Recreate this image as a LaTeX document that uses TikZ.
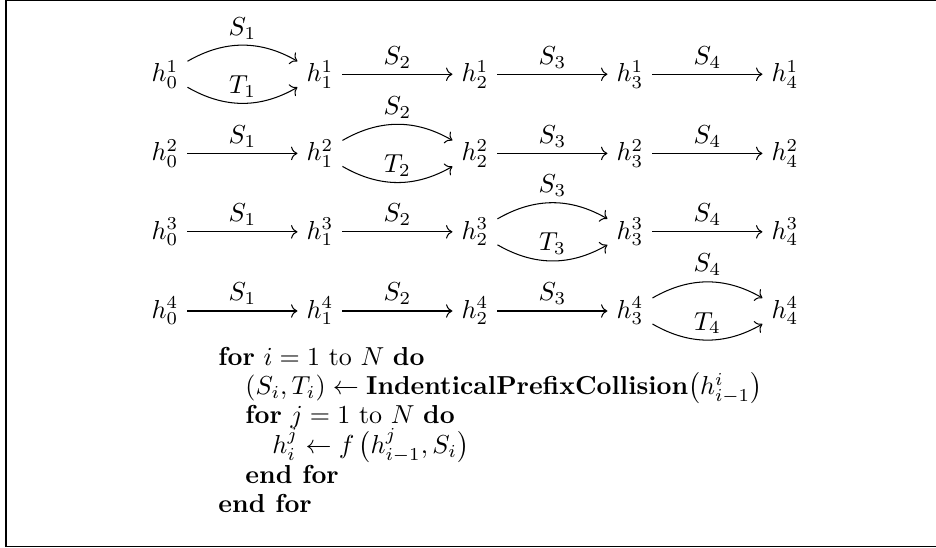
\documentclass[tikz,border=0pt]{standalone}
\usepackage{tikz}
\usetikzlibrary{arrows.meta, cd}
\usepackage{amsmath}

\begin{document}
\begin{tikzpicture}[
          hnode/.style={inner sep=0.333em},
          arr/.style={-cm to},
          lbl/.style={above, inner sep=0.5ex},
          alg/.style={anchor=base west, inner sep=0pt}
        ]
        \useasboundingbox (-2.2303,-3.2035) rectangle (10.4216,4.2038);
        % Frame (open on the right, cut by the page)
        \draw (10.4216,4.194) -| (-2.149,-3.183) -- (10.4216,-3.183);

        % Row 1
        \node[hnode] (h10) at (0, 3.2) {$h^1_0$};
        \node[hnode] (h11) at (2.095, 3.2) {$h^1_1$};
        \node[hnode] (h12) at (4.19, 3.2) {$h^1_2$};
        \node[hnode] (h13) at (6.285, 3.2) {$h^1_3$};
        \node[hnode] (h14) at (8.38, 3.2) {$h^1_4$};
        \draw[arr] (h10) to[bend left=30] node[lbl]{$S_1$} (h11);
        \draw[arr] (h10) to[bend right=30] node[lbl]{$T_1$} (h11);
        \draw[arr] (h11) -- node[lbl]{$S_2$} (h12);
        \draw[arr] (h12) -- node[lbl]{$S_3$} (h13);
        \draw[arr] (h13) -- node[lbl]{$S_4$} (h14);

        % Row 2
        \node[hnode] (h20) at (0, 2.13) {$h^2_0$};
        \node[hnode] (h21) at (2.095, 2.13) {$h^2_1$};
        \node[hnode] (h22) at (4.19, 2.13) {$h^2_2$};
        \node[hnode] (h23) at (6.285, 2.13) {$h^2_3$};
        \node[hnode] (h24) at (8.38, 2.13) {$h^2_4$};
        \draw[arr] (h20) -- node[lbl]{$S_1$} (h21);
        \draw[arr] (h21) to[bend left=30] node[lbl]{$S_2$} (h22);
        \draw[arr] (h21) to[bend right=30] node[lbl]{$T_2$} (h22);
        \draw[arr] (h22) -- node[lbl]{$S_3$} (h23);
        \draw[arr] (h23) -- node[lbl]{$S_4$} (h24);

        % Row 3
        \node[hnode] (h30) at (0, 1.07) {$h^3_0$};
        \node[hnode] (h31) at (2.095, 1.07) {$h^3_1$};
        \node[hnode] (h32) at (4.19, 1.07) {$h^3_2$};
        \node[hnode] (h33) at (6.285, 1.07) {$h^3_3$};
        \node[hnode] (h34) at (8.38, 1.07) {$h^3_4$};
        \draw[arr] (h30) -- node[lbl]{$S_1$} (h31);
        \draw[arr] (h31) -- node[lbl]{$S_2$} (h32);
        \draw[arr] (h32) to[bend left=30] node[lbl]{$S_3$} (h33);
        \draw[arr] (h32) to[bend right=30] node[lbl]{$T_3$} (h33);
        \draw[arr] (h33) -- node[lbl]{$S_4$} (h34);

        % Row 4
        \node[hnode] (h40) at (0, 0) {$h^4_0$};
        \node[hnode] (h41) at (2.095, 0) {$h^4_1$};
        \node[hnode] (h42) at (4.19, 0) {$h^4_2$};
        \node[hnode] (h43) at (6.285, 0) {$h^4_3$};
        \node[hnode] (h44) at (8.38, 0) {$h^4_4$};
        \draw[arr] (h40) -- node[lbl]{$S_1$} (h41);
        \draw[arr] (h41) -- node[lbl]{$S_2$} (h42);
        \draw[arr] (h42) -- node[lbl]{$S_3$} (h43);
        \draw[arr] (h43) to[bend left=30] node[lbl]{$S_4$} (h44);
        \draw[arr] (h43) to[bend right=30] node[lbl]{$T_4$} (h44);

        % Algorithm
        \node[alg] (for1) at (0.716, -0.730)
              {\textbf{for} $i = 1$ to $N$ \textbf{do}};
        \node[alg] (coll) at (1.081, -1.129)
              {$(S_i, T_i) \leftarrow \textbf{IndenticalPrefixCollision}\bigl(h^i_{i-1}\bigr)$};
        \node[alg] (for2) at (1.081, -1.527)
              {\textbf{for} $j = 1$ to $N$ \textbf{do}};
        \node[alg] (step) at (1.446, -1.926)
              {$h^j_i \leftarrow f\,\bigl(h^j_{i-1}, S_i\bigr)$};
        \node[alg] (end2) at (1.081, -2.325) {\textbf{end for}};
        \node[alg] (end1) at (0.716, -2.724) {\textbf{end for}};
      \end{tikzpicture}
\end{document}
